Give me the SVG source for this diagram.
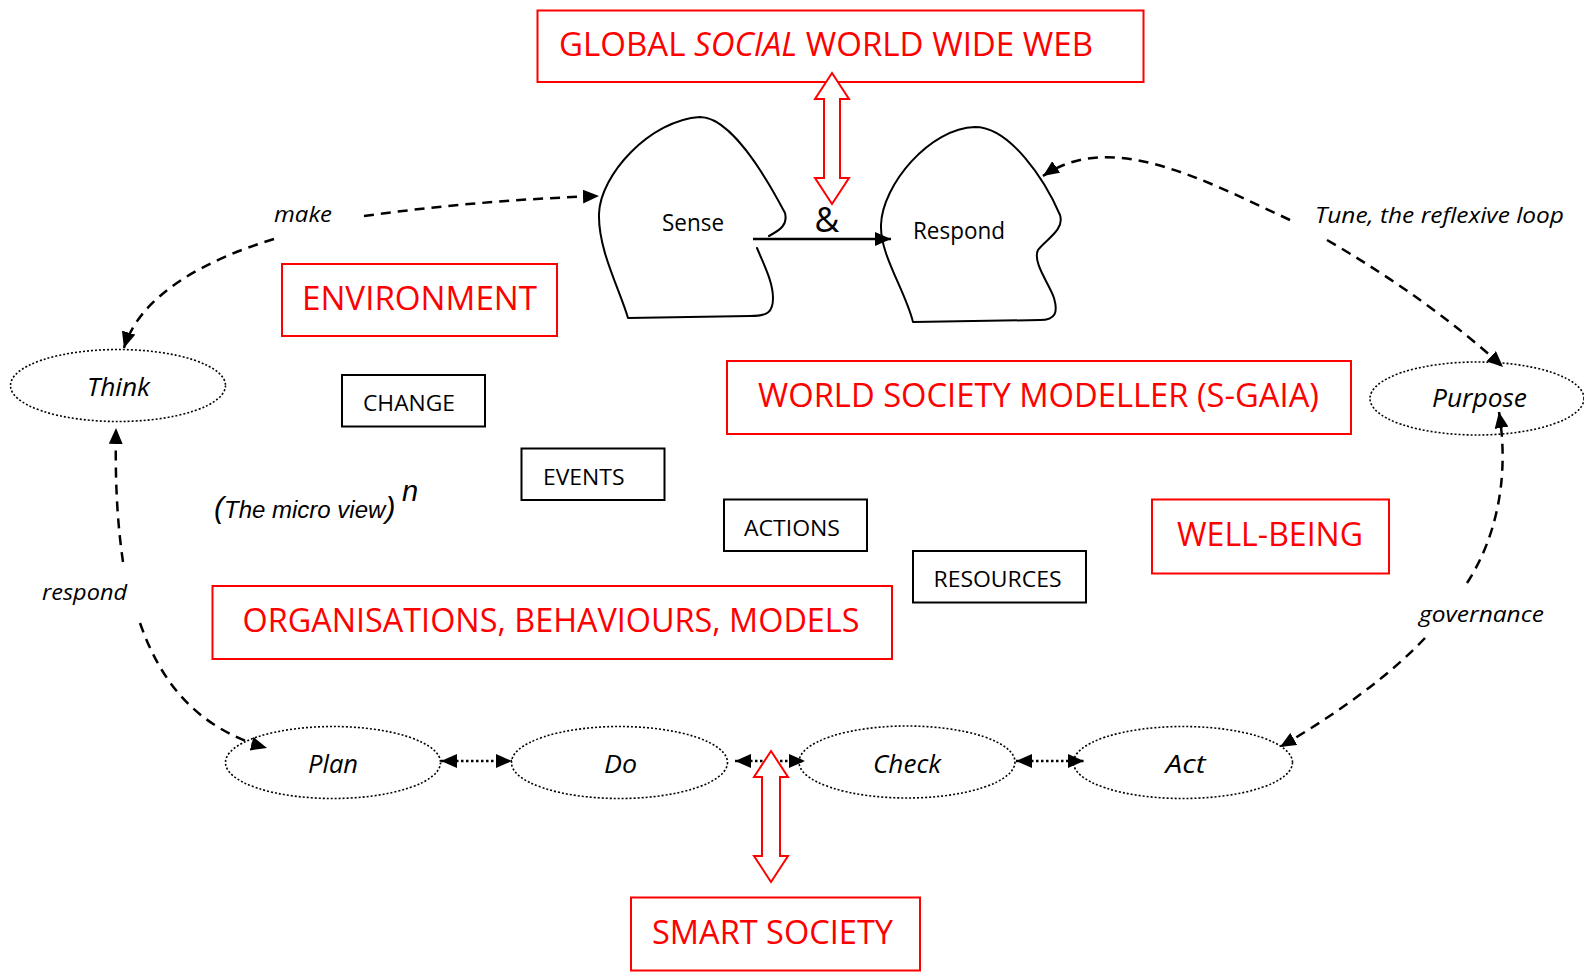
<svg xmlns="http://www.w3.org/2000/svg" width="1584" height="976" viewBox="0 0 1584 976">
<style>
.red{fill:none;stroke:#ff0000;stroke-width:2}
.redarrow{fill:#ffffff;stroke:#ff0000;stroke-width:2;stroke-linejoin:miter}
.blk{fill:none;stroke:#000;stroke-width:2}
.ell{fill:none;stroke:#000;stroke-width:1.6;stroke-dasharray:2 2}
.blob{fill:none;stroke:#000;stroke-width:2;stroke-linejoin:round;stroke-linecap:round}
.dash{fill:none;stroke:#000;stroke-width:2.5;stroke-dasharray:10 7}
.dot{fill:none;stroke:#000;stroke-width:2.5;stroke-dasharray:2.5 2.5}
.solid{fill:none;stroke:#000;stroke-width:2.5}
.rt{font-family:"Open Sans","Noto Sans",sans-serif;font-size:33px;fill:#ff0000}
.bt{font-family:"Open Sans","Noto Sans",sans-serif;font-size:22px;fill:#000}
.nt{font-family:"Open Sans","Noto Sans",sans-serif;font-size:24px;fill:#000}
.et{font-family:"Open Sans","Noto Sans",sans-serif;font-size:25px;font-style:italic;fill:#000}
.lt{font-family:"Open Sans","Noto Sans",sans-serif;font-size:22px;font-style:italic;fill:#000}
.ar{font-family:"Liberation Sans",Arial,sans-serif;font-style:italic;fill:#000}
</style>
<defs>
<marker id="ah" viewBox="0 0 16 14" refX="16" refY="7" markerWidth="16" markerHeight="14" markerUnits="userSpaceOnUse" orient="auto-start-reverse">
<path d="M0,0 L16,7 L0,14 Z" fill="#000"/>
</marker>
</defs>

<g id="global-web">
<rect class="red" x="537.5" y="10.5" width="606" height="71.5"/>
<text class="rt" x="559" y="56" textLength="534" lengthAdjust="spacingAndGlyphs">GLOBAL <tspan font-style="italic">SOCIAL</tspan> WORLD WIDE WEB</text>
</g>

<g id="sense">
<path class="blob" d="M757,248 C764,265 773,282 773,298 C773,312 768,316 750,316 L628,318 C620,290 598,250 599,214 C600,175 650,120 700,117 C730,117 765,175 785,213 C788,225 780,230 769,236"/>
<text class="nt" x="662" y="231" textLength="62" lengthAdjust="spacingAndGlyphs">Sense</text>
</g>

<g id="respond">
<path class="blob" d="M913,322 C905,290 880,255 881,225 C882,185 930,128 975,127 C1010,127 1045,180 1060,215 C1065,230 1045,240 1038,250 C1032,262 1050,285 1054,298 C1058,312 1056,320 1040,320 Z"/>
<text class="nt" x="913" y="239" textLength="92" lengthAdjust="spacingAndGlyphs">Respond</text>
</g>

<g id="amp">
<text class="nt" x="827" y="232" font-size="34" text-anchor="middle" style="font-size:34px">&amp;</text>
</g>

<g id="environment">
<rect class="red" x="282" y="264" width="275" height="72"/>
<text class="rt" x="302" y="310" textLength="235" lengthAdjust="spacingAndGlyphs">ENVIRONMENT</text>
</g>

<g id="think">
<ellipse class="ell" cx="118" cy="385.5" rx="107.5" ry="36"/>
<text class="et" x="87" y="396" textLength="63" lengthAdjust="spacingAndGlyphs">Think</text>
</g>

<g id="change">
<rect class="blk" x="342" y="375" width="143" height="51.5"/>
<text class="bt" x="363" y="410.5" textLength="92" lengthAdjust="spacingAndGlyphs">CHANGE</text>
</g>

<g id="events">
<rect class="blk" x="521.5" y="448.5" width="143" height="51.5"/>
<text class="bt" x="543" y="485" textLength="81.5" lengthAdjust="spacingAndGlyphs">EVENTS</text>
</g>

<g id="actions">
<rect class="blk" x="724" y="499.5" width="143" height="51.5"/>
<text class="bt" x="744" y="536" textLength="96" lengthAdjust="spacingAndGlyphs">ACTIONS</text>
</g>

<g id="resources">
<rect class="blk" x="913" y="551" width="173" height="51.5"/>
<text class="bt" x="933.5" y="586.5" textLength="128" lengthAdjust="spacingAndGlyphs">RESOURCES</text>
</g>

<g id="world-society-modeller">
<rect class="red" x="727" y="361" width="624" height="73"/>
<text class="rt" x="758" y="407" textLength="561" lengthAdjust="spacingAndGlyphs">WORLD SOCIETY MODELLER (S-GAIA)</text>
</g>

<g id="purpose">
<ellipse class="ell" cx="1477" cy="398.5" rx="107" ry="36.5"/>
<text class="et" x="1432" y="406.5" textLength="95" lengthAdjust="spacingAndGlyphs">Purpose</text>
</g>

<g id="micro-view">
<text class="ar" x="214" y="518"><tspan style="font-size:30px">(</tspan><tspan style="font-size:24px">The micro view</tspan><tspan style="font-size:30px">)</tspan></text>
<text class="ar" x="402" y="501" style="font-size:29px">n</text>
</g>

<g id="well-being">
<rect class="red" x="1152" y="499.5" width="237" height="74"/>
<text class="rt" x="1177" y="545.5" textLength="186" lengthAdjust="spacingAndGlyphs">WELL-BEING</text>
</g>

<g id="organisations">
<rect class="red" x="212.5" y="586" width="679.5" height="73"/>
<text class="rt" x="242.5" y="632" textLength="617" lengthAdjust="spacingAndGlyphs">ORGANISATIONS, BEHAVIOURS, MODELS</text>
</g>

<g id="plan">
<ellipse class="ell" cx="333" cy="762.5" rx="107.5" ry="36"/>
<text class="et" x="308" y="772.5" textLength="50" lengthAdjust="spacingAndGlyphs">Plan</text>
</g>

<g id="do">
<ellipse class="ell" cx="619.5" cy="762.5" rx="108" ry="36"/>
<text class="et" x="604" y="772.5" textLength="33" lengthAdjust="spacingAndGlyphs">Do</text>
</g>

<g id="check">
<ellipse class="ell" cx="907" cy="762" rx="108" ry="36"/>
<text class="et" x="873" y="772.5" textLength="68" lengthAdjust="spacingAndGlyphs">Check</text>
</g>

<g id="act">
<ellipse class="ell" cx="1183" cy="762.5" rx="109.5" ry="36"/>
<text class="et" x="1165.5" y="772.5" textLength="40" lengthAdjust="spacingAndGlyphs">Act</text>
</g>

<g id="smart-society">
<rect class="red" x="631" y="897.5" width="289" height="73"/>
<text class="rt" x="652" y="944" textLength="241" lengthAdjust="spacingAndGlyphs">SMART SOCIETY</text>
</g>

<g id="connectors">
<path class="solid" d="M753,239 L891,239" marker-end="url(#ah)"/>
<path class="dash" d="M274,239 C205,260 140,295 124,348" marker-end="url(#ah)"/>
<path class="dash" d="M364,216 Q480,200 599,196" marker-end="url(#ah)"/>
<path class="dash" d="M1290,220 C1200,178 1110,130 1043,176" marker-end="url(#ah)"/>
<path class="dash" d="M1327,240 Q1430,300 1503,367" marker-end="url(#ah)"/>
<path class="dash" d="M1467,583 C1495,540 1510,480 1499,412" marker-end="url(#ah)"/>
<path class="dash" d="M1425,638 C1390,675 1340,712 1280,747" marker-end="url(#ah)"/>
<path class="dash" d="M123,562 C117,520 115,480 116,428" marker-end="url(#ah)"/>
<path class="dash" d="M140,623 C160,680 195,728 267,748" marker-end="url(#ah)"/>
<path class="dot" d="M441,761 L512,761" marker-start="url(#ah)" marker-end="url(#ah)"/>
<path class="dot" d="M735,761 L805,761" marker-start="url(#ah)" marker-end="url(#ah)"/>
<path class="dot" d="M1016,761 L1084,761" marker-start="url(#ah)" marker-end="url(#ah)"/>
<polygon class="redarrow" points="832,73 849,99 840,99 840,178 849,178 832,204 815,178 824,178 824,99 815,99"/>
<polygon class="redarrow" points="771,751 788,777 780,777 780,856 788,856 771,882 754,856 762,856 762,777 754,777"/>
<text class="lt" x="274" y="222" textLength="58" lengthAdjust="spacingAndGlyphs">make</text>
<text class="lt" x="1315" y="223" textLength="249" lengthAdjust="spacingAndGlyphs">Tune, the reflexive loop</text>
<text class="lt" x="1419" y="621.5" textLength="125" lengthAdjust="spacingAndGlyphs">governance</text>
<text class="lt" x="42" y="600" textLength="85" lengthAdjust="spacingAndGlyphs">respond</text>
</g>
</svg>
